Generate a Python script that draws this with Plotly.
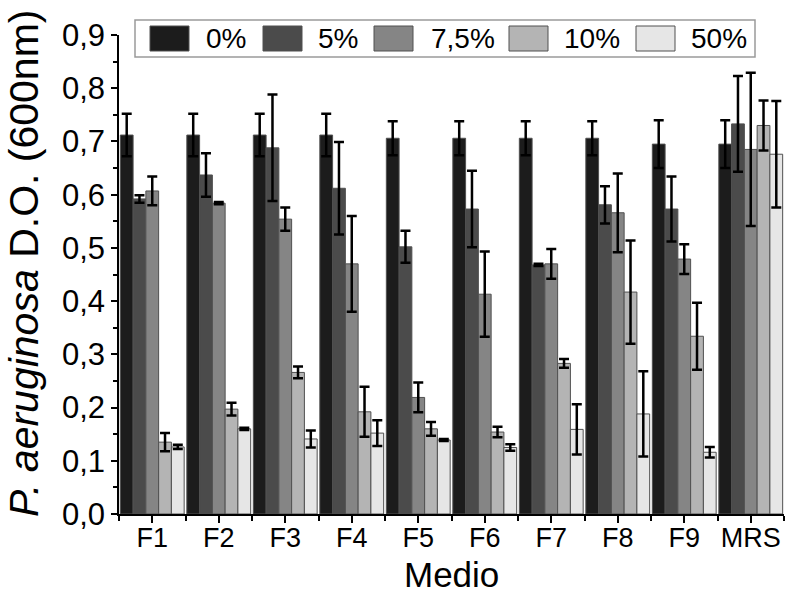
import plotly.graph_objects as go

categories = ["F1", "F2", "F3", "F4", "F5", "F6", "F7", "F8", "F9", "MRS"]
series_names = ["0%", "5%", "7,5%", "10%", "50%"]

v0 = [0.712, 0.712, 0.712, 0.712, 0.706, 0.706, 0.706, 0.706, 0.695, 0.695]
e0 = [0.040, 0.040, 0.040, 0.040, 0.032, 0.032, 0.032, 0.032, 0.045, 0.045]
v5 = [0.592, 0.637, 0.688, 0.612, 0.502, 0.573, 0.468, 0.581, 0.573, 0.733]
e5 = [0.007, 0.041, 0.100, 0.087, 0.030, 0.072, 0.002, 0.035, 0.061, 0.090]
v75 = [0.607, 0.584, 0.554, 0.470, 0.219, 0.413, 0.470, 0.566, 0.479, 0.685]
e75 = [0.027, 0.002, 0.022, 0.090, 0.028, 0.080, 0.028, 0.074, 0.028, 0.144]
v10 = [0.135, 0.197, 0.266, 0.192, 0.160, 0.154, 0.283, 0.417, 0.334, 0.730]
e10 = [0.017, 0.012, 0.011, 0.047, 0.013, 0.010, 0.008, 0.097, 0.063, 0.047]
v50 = [0.126, 0.160, 0.141, 0.152, 0.139, 0.125, 0.159, 0.188, 0.116, 0.676]
e50 = [0.004, 0.002, 0.016, 0.024, 0.002, 0.006, 0.047, 0.080, 0.010, 0.100]

values = [v0, v5, v75, v10, v50]
errors = [e0, e5, e75, e10, e50]
colors = ["#1c1c1c", "#4b4b4b", "#858585", "#b4b4b4", "#e6e6e6"]

y_ticks = [0.0, 0.1, 0.2, 0.3, 0.4, 0.5, 0.6, 0.7, 0.8, 0.9]
y_ticktext = ["0,0", "0,1", "0,2", "0,3", "0,4", "0,5", "0,6", "0,7", "0,8", "0,9"]

FONT = "Liberation Sans, Arial, sans-serif"

xpos = list(range(1, len(categories) + 1))

fig = go.Figure()
for name, vals, errs, col in zip(series_names, values, errors, colors):
    fig.add_trace(go.Bar(
        x=xpos, y=vals, name=name,
        marker=dict(color=col, line=dict(color="#505050", width=1)),
        error_y=dict(type="data", array=errs, visible=True,
                     color="black", thickness=2.5, width=5),
        showlegend=False,
    ))

# plot-area geometry (pixels) for the hand-drawn legend and titles
L, R, T, B = 119, 784, 35, 514
W, H = R - L, B - T
def px(x):
    return (x - L) / W
def py(y):
    return (B - y) / H

shapes = [dict(type="rect", xref="paper", yref="paper",
               x0=px(135), x1=px(755), y0=py(57), y1=py(20),
               line=dict(color="#9a9a9a", width=1.5), fillcolor="white", layer="above")]
annotations = []
sw_x = [150, 263, 374, 509, 636]
txt_r = [248, 360, 497, 622, 749]
for name, col, sx, tr in zip(series_names, colors, sw_x, txt_r):
    shapes.append(dict(type="rect", xref="paper", yref="paper",
                       x0=px(sx), x1=px(sx + 39), y0=py(51), y1=py(26),
                       line=dict(color="#505050", width=1), fillcolor=col, layer="above"))
    annotations.append(dict(xref="paper", yref="paper", x=px(tr), y=py(38.5),
                            text=name, showarrow=False, xanchor="right", yanchor="middle",
                            font=dict(family=FONT, size=28, color="black")))

# axis titles as annotations
annotations.append(dict(xref="paper", yref="paper", x=0.5, y=py(574),
                        text="Medio", showarrow=False, xanchor="center", yanchor="middle",
                        font=dict(family=FONT, size=35, color="black")))
annotations.append(dict(xref="paper", yref="paper", x=px(24), y=py(264),
                        text="<i>P. aeruginosa</i> D.O. (600nm)", textangle=-90,
                        showarrow=False, xanchor="center", yanchor="middle",
                        font=dict(family=FONT, size=41, color="black")))

fig.update_layout(
    width=786, height=596,
    margin=dict(l=L, r=786 - R, t=T, b=596 - B),
    paper_bgcolor="white", plot_bgcolor="white",
    barmode="group", bargap=0.04, bargroupgap=0,
    shapes=shapes, annotations=annotations,
    font=dict(family=FONT, color="black"),
)
fig.update_xaxes(
    range=[0.5, len(categories) + 0.5],
    tickmode="array", tickvals=xpos, ticktext=categories,
    showline=True, linecolor="black", linewidth=1.5,
    ticks="outside", ticklen=7, tickwidth=1.5, tickcolor="black",
    minor=dict(ticks="outside", ticklen=5, tickwidth=1.5, tickcolor="black",
               tickmode="linear", tick0=0.5, dtick=1),
    showgrid=False, zeroline=False,
    tickfont=dict(family=FONT, size=27, color="black"),
    ticklabelstandoff=-8,
)
fig.update_yaxes(
    range=[0, 0.9],
    tickmode="array", tickvals=y_ticks, ticktext=y_ticktext,
    showline=True, linecolor="black", linewidth=1.5,
    ticks="outside", ticklen=6, tickwidth=1.5, tickcolor="black",
    minor=dict(ticks="outside", ticklen=4, tickwidth=1.5, tickcolor="black",
               tickmode="linear", tick0=0, dtick=0.05),
    showgrid=False, zeroline=False,
    tickfont=dict(family=FONT, size=31, color="black"),
)

fig.write_html("out.html")
